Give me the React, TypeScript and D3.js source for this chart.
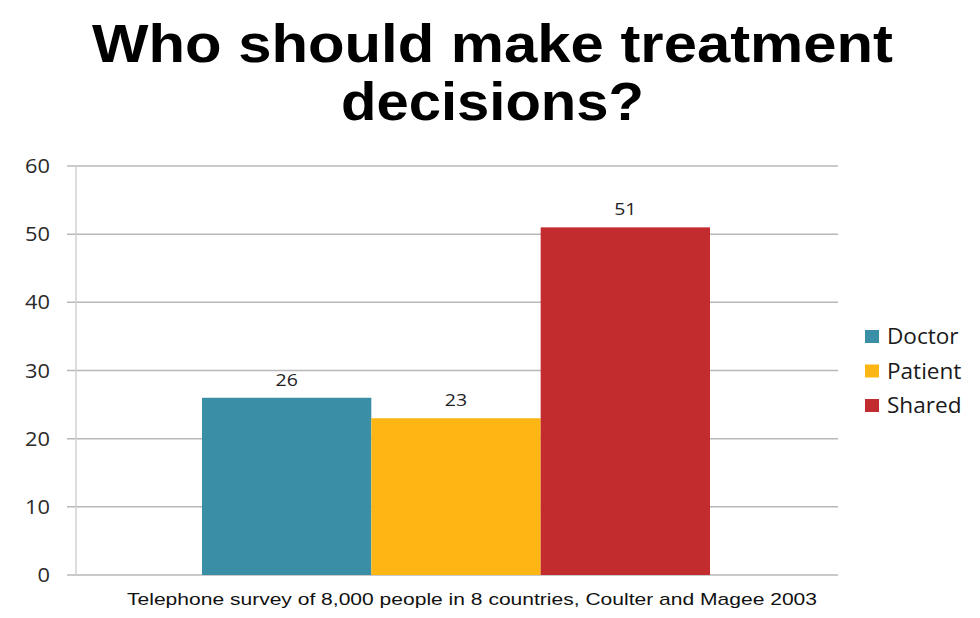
import React from "react";
import * as d3 from "d3";

const categories = ["Doctor", "Patient", "Shared"];
const values = [26, 23, 51];
const colors = ["#3A8FA6", "#FDB614", "#C22C2F"];
const yTicks = [0, 10, 20, 30, 40, 50, 60];
const titleLines = ["Who should make treatment", "decisions?"];
const footnote = "Telephone survey of 8,000 people in 8 countries, Coulter and Magee 2003";

export default function App() {
  const W = 980, H = 618;
  const y = d3.scaleLinear().domain([0, 60]).range([575, 166]);
  const x = d3.scaleBand().domain(categories).range([202, 710]).paddingInner(0).paddingOuter(0);
  const legendY = d3.scalePoint().domain(categories).range([344, 413]);
  const lab = "'Open Sans', 'DejaVu Sans', sans-serif";
  const arial = "'Liberation Sans', Arial, sans-serif";
  const titleLen = [801, 303];
  return (
    <svg width={W} height={H} style={{ position: "absolute", left: 0, top: 0, background: "#fff" }}>
      <rect width={W} height={H} fill="#fff" />
      {titleLines.map((t, i) => (
        <text key={t} x={492.5} y={62 + i * 58} textAnchor="middle" fontFamily={arial} fontWeight="bold" fontSize={54} fill="#000" textLength={titleLen[i]} lengthAdjust="spacingAndGlyphs">{t}</text>
      ))}
      {yTicks.map(t => (
        <g key={t}>
          <line x1={67} x2={838} y1={y(t)} y2={y(t)} stroke="#b8b8b8" strokeWidth={1.5} />
          <g transform={`translate(50,${y(t) + 7}) scale(1.12,1)`}>
            <text x={0} y={0} textAnchor="end" fontFamily={lab} fontSize={19.5} fill="#2a2a2a">{t}</text>
          </g>
        </g>
      ))}
      <line x1={76} x2={76} y1={y(60)} y2={y(0)} stroke="#d0d0d0" strokeWidth={1.5} />
      {categories.map((c, i) => (
        <g key={c}>
          <rect x={x(c)} y={y(values[i])} width={x.bandwidth()} height={y(0) - y(values[i])} fill={colors[i]} />
          <g transform={`translate(${(x(c) as number) + x.bandwidth() / 2},${y(values[i]) - 12}) scale(1.22,1)`}>
            <text x={0} y={0} textAnchor="middle" fontFamily={lab} fontSize={16} fill="#222">{values[i]}</text>
          </g>
        </g>
      ))}
      {categories.map((c, i) => (
        <g key={c}>
          <rect x={865} y={(legendY(c) as number) - 14} width={14} height={13} fill={colors[i]} />
          <g transform={`translate(887,${legendY(c)}) scale(1.05,1)`}>
            <text x={0} y={0} fontFamily={lab} fontSize={21.5} fill="#1a1a1a">{c}</text>
          </g>
        </g>
      ))}
      <text x={472} y={605} textAnchor="middle" fontFamily={arial} fontSize={17} fill="#111" textLength={690} lengthAdjust="spacingAndGlyphs">{footnote}</text>
    </svg>
  );
}
